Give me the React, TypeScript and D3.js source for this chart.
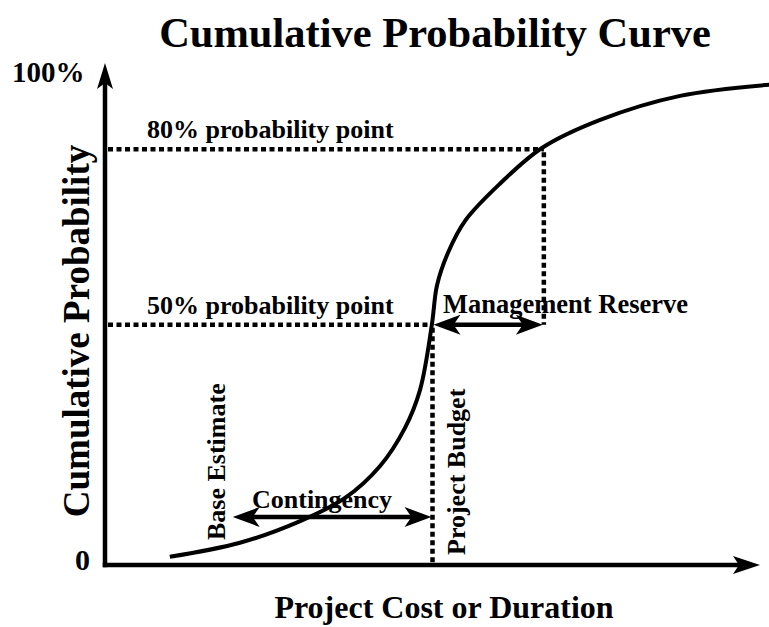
import * as d3 from 'd3';

// S-curve (cost units 0-100, probability %)
const curveCost = [9.9, 20.6, 29.8, 36.6, 42.0, 45.8, 48.1, 49.9, 50.7, 52.4, 55.0, 60.3, 66.7, 75.6, 87.8, 101.4];
const curveProb = [10.4, 12.8, 16.5, 20.4, 25.9, 32.4, 38.9, 50, 56.8, 62.4, 67.8, 74.1, 80.2, 85.0, 89.1, 91];

// reference points
const refProb = [80, 50];
const refCost = [67, 50];
const refLabels = ['80% probability point', '50% probability point'];

const baseEstimate = 19.5;
const projectBudget = 50;

const W = 769;
const H = 627;
const FONT = '"Liberation Serif", "Times New Roman", serif';

const x = d3.scaleLinear().domain([0, 100]).range([105, 760]);
const y = d3.scaleLinear().domain([9, 100]).range([565, 32]);

// stealth style arrow head, tip at (tx, ty) pointing along (dx, dy)
const head = (tx: number, ty: number, dx: number, dy: number, L = 27, hw = 10, notch = 20) => {
  const nx = -dy, ny = dx;
  const p = d3.path();
  p.moveTo(tx, ty);
  p.lineTo(tx - L * dx + hw * nx, ty - L * dy + hw * ny);
  p.lineTo(tx - notch * dx, ty - notch * dy);
  p.lineTo(tx - L * dx - hw * nx, ty - L * dy - hw * ny);
  p.closePath();
  return p.toString();
};

const DoubleArrow = ({ x0, x1, yy }: { x0: number; x1: number; yy: number }) => (
  <g>
    <line x1={x0 + 18} x2={x1 - 18} y1={yy} y2={yy} stroke="#000" strokeWidth={4.5} />
    <path d={head(x0, yy, -1, 0)} fill="#000" />
    <path d={head(x1, yy, 1, 0)} fill="#000" />
  </g>
);

const App = () => {
  const pts = curveCost.map((c, i) => [x(c), y(curveProb[i])] as [number, number]);
  const line = d3.line().curve(d3.curveCatmullRom.alpha(0.5));

  const axisX0 = x(0);
  const axisY0 = y.range()[0];
  const dotted = { stroke: '#000', strokeWidth: 4.5, strokeDasharray: '5 3.5', fill: 'none' };
  const label = { fontFamily: FONT, fontWeight: 'bold' as const, fill: '#000' };

  return (
    <svg width={W} height={H} style={{ position: 'absolute', left: 0, top: 0, background: '#fff' }}>
      <text x={435} y={47} textAnchor="middle" fontSize={42.5} {...label}>
        Cumulative Probability Curve
      </text>

      {/* reference dotted lines */}
      {refProb.map((p, i) => (
        <g key={p}>
          <line x1={axisX0 + 3} x2={x(refCost[i])} y1={y(p)} y2={y(p)} {...dotted} />
          <text x={147} y={y(p) - 11} fontSize={26} {...label}>{refLabels[i]}</text>
        </g>
      ))}
      <line x1={x(refCost[0])} x2={x(refCost[0])} y1={y(refProb[0]) + 3} y2={y(refProb[1])} {...dotted} />
      <line x1={x(projectBudget)} x2={x(projectBudget)} y1={y(refProb[1]) + 3} y2={axisY0} {...dotted} />

      {/* curve */}
      <path d={line(pts) ?? ''} fill="none" stroke="#000" strokeWidth={4} />

      {/* axes */}
      <line x1={axisX0} x2={axisX0} y1={axisY0 + 2.25} y2={80} stroke="#000" strokeWidth={4.5} />
      <path d={head(axisX0, 63, 0, -1, 26, 8, 20)} fill="#000" />
      <line x1={axisX0 - 2.25} x2={745} y1={axisY0} y2={axisY0} stroke="#000" strokeWidth={4.5} />
      <path d={head(760, axisY0, 1, 0, 27, 9, 21)} fill="#000" />

      {/* management reserve */}
      <DoubleArrow x0={x(projectBudget) + 1} x1={x(refCost[0]) - 1} yy={y(refProb[1])} />
      <text x={443} y={313} fontSize={26.5} {...label}>Management Reserve</text>

      {/* contingency */}
      <DoubleArrow x0={x(baseEstimate)} x1={x(projectBudget) - 1} yy={517} />
      <text x={252} y={508} fontSize={26} {...label}>Contingency</text>

      <text transform={`translate(225,540) rotate(-90)`} fontSize={26} {...label}>Base Estimate</text>
      <text transform={`translate(465,555) rotate(-90)`} fontSize={26} {...label}>Project Budget</text>

      <text x={12} y={82} fontSize={29} {...label}>100%</text>
      <text x={75} y={570} fontSize={30} {...label}>0</text>

      <text transform={`translate(89,331) rotate(-90)`} textAnchor="middle" fontSize={37} {...label}>
        Cumulative Probability
      </text>
      <text x={444} y={618} textAnchor="middle" fontSize={32} {...label}>
        Project Cost or Duration
      </text>
    </svg>
  );
};

export default App;
